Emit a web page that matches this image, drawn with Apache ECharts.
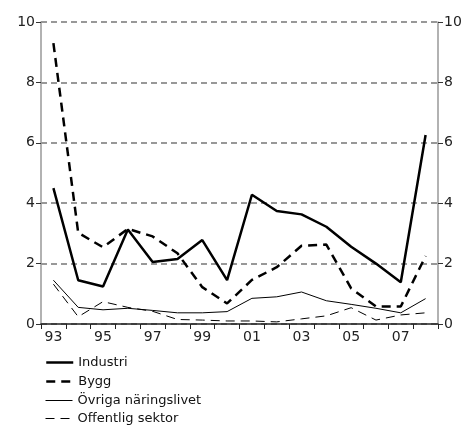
<!DOCTYPE html>
<html><head><meta charset="utf-8">
<script src="https://cdn.jsdelivr.net/npm/echarts@6/dist/echarts.min.js"></script>
<style>html,body{margin:0;padding:0;background:#fff}#c{width:469px;height:426px}</style>
</head><body><div id="c"></div>
<script>
const years = ['93','94','95','96','97','98','99','00','01','02','03','04','05','06','07','08'];
const seriesNames = ['Industri','Bygg','Övriga näringslivet','Offentlig sektor'];
const industri = [4.5,1.45,1.24,3.13,2.05,2.15,2.78,1.45,4.28,3.74,3.63,3.22,2.56,2.0,1.38,6.26];
const bygg = [9.3,3.02,2.54,3.15,2.9,2.34,1.22,0.68,1.46,1.88,2.59,2.63,1.18,0.58,0.58,2.25];
const ovriga = [1.45,0.55,0.47,0.52,0.45,0.37,0.37,0.41,0.85,0.9,1.06,0.77,0.65,0.52,0.37,0.84];
const offentlig = [1.32,0.24,0.74,0.55,0.42,0.15,0.13,0.1,0.1,0.07,0.17,0.27,0.54,0.13,0.3,0.37];
const yTicks = {min:0, max:10, interval:2};

const font = 'DejaVu Sans';
const chart = echarts.init(document.getElementById('c'), null, {renderer:'canvas'});
function yAxis(pos, split){
  return {type:'value', position:pos, min:yTicks.min, max:yTicks.max, interval:yTicks.interval,
    axisLine:{show:true, lineStyle:{color:'#999', width:1.5}},
    axisTick:{show:true, length:5, lineStyle:{color:'#333'}},
    axisLabel:{color:'#222', fontFamily:font, fontSize:14, margin:6},
    splitLine:{show:split, lineStyle:{color:'#777', type:[6,4], width:1.5}}};
}
const styles = [
  {color:'#000', width:2.5},
  {color:'#000', width:2.5, type:[9,6]},
  {color:'#000', width:1},
  {color:'#000', width:1, type:[9,6]}
];
const legendTops = [356, 375, 394, 412];
const legends = seriesNames.map((n,i)=>({
  orient:'vertical', left:45, top:legendTops[i], padding:0, itemWidth:27, itemHeight:12, itemGap:0,
  itemStyle:{opacity:0}, lineStyle:styles[i],
  textStyle:{fontFamily:font, fontSize:13, color:'#111'},
  data:[n]}));
const dataSets = [industri, bygg, ovriga, offentlig];
chart.setOption({
  animation:false,
  grid:{left:41, right:31, top:22, bottom:102},
  legend:legends,
  xAxis:{type:'category', data:years, boundaryGap:true,
    axisLine:{lineStyle:{color:'#222', width:1.5}},
    axisTick:{show:true, interval:0, length:5, lineStyle:{color:'#222'}},
    axisLabel:{interval:1, color:'#222', fontFamily:font, fontSize:14, margin:6}},
  yAxis:[yAxis('left', true), yAxis('right', false)],
  series:seriesNames.map((n,i)=>({name:n, type:'line', data:dataSets[i], symbol:'none',
    lineStyle:styles[i], itemStyle:{color:'#000'}}))
});
</script></body></html>
